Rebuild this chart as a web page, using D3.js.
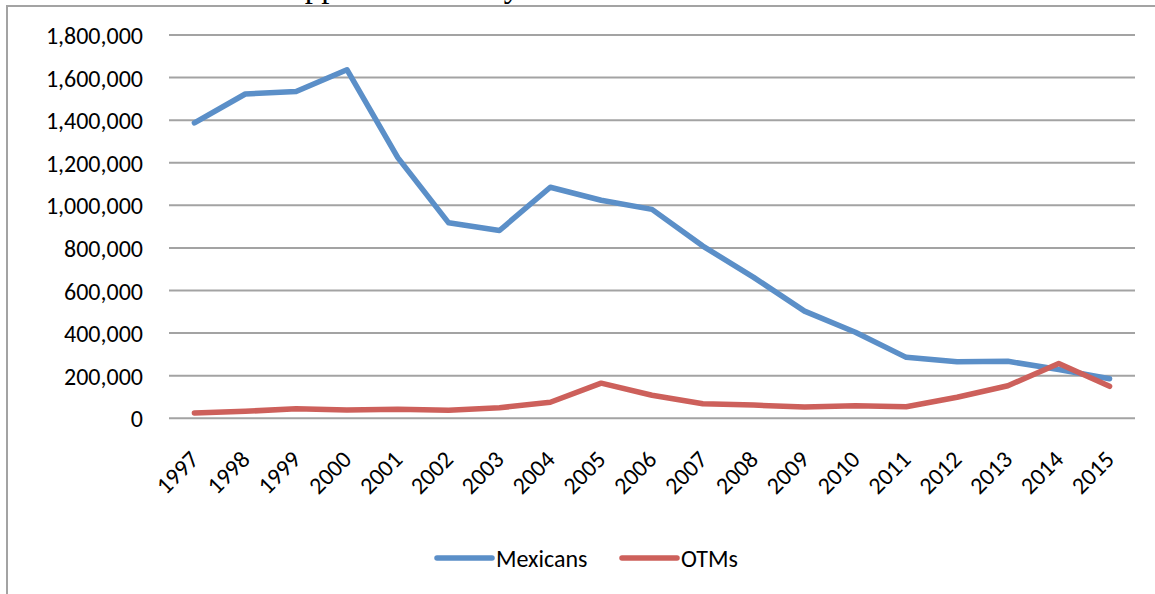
<!DOCTYPE html>
<html>
<head>
<meta charset="utf-8">
<script src="https://cdn.jsdelivr.net/npm/d3@7/dist/d3.min.js"></script>
<style>
  html, body { margin: 0; padding: 0; background: #ffffff; }
  svg { display: block; }
  .lbl { font-family: Calibri, Carlito, Lato, sans-serif; font-size: 24px; fill: #000; }
</style>
</head>
<body>
<svg id="chart" width="1155" height="594"></svg>
<script>
// Apprehensions by fiscal year
const years = ["1997","1998","1999","2000","2001","2002","2003","2004","2005","2006",
               "2007","2008","2009","2010","2011","2012","2013","2014","2015"];
const mexicans = [1387650, 1522918, 1534515, 1636883, 1224047, 917993, 882012, 1085006,
                  1023905, 981066, 808773, 661766, 503386, 404365, 286154, 265755, 267734,
                  229178, 186017];
const otms = [25303, 32858, 44495, 39555, 42167, 37317, 49545, 75389, 165170, 108026,
              67931, 62059, 52655, 59017, 54098, 99013, 153055, 257473, 150000];
const yTicks = [0, 200000, 400000, 600000, 800000, 1000000, 1200000, 1400000, 1600000, 1800000];
const seriesNames = ["Mexicans", "OTMs"];
const seriesColors = ["#5b8fc8", "#cd605b"];

const svg = d3.select("#chart");
const W = 1155, H = 594;
const plot = { left: 169, right: 1135, top: 35, bottom: 418.3 };

// Outer frame of the chart area (right and bottom edges run past the page)
svg.append("path")
  .attr("d", `M7,${H + 5} L7,6 L${W + 5},6`)
  .attr("fill", "none")
  .attr("stroke", "#a3a3a3")
  .attr("stroke-width", 2);

// Heading sitting above the frame
svg.append("text")
  .attr("x", 281).attr("y", -2.6)
  .attr("font-family", "'Times New Roman', 'Liberation Serif', serif")
  .attr("font-size", 33)
  .attr("fill", "#000")
  .text("Apprehensions by Year");

const x = d3.scalePoint().domain(years).range([plot.left, plot.right]).padding(0.5);
const y = d3.scaleLinear().domain([0, 1800000]).range([plot.bottom, plot.top]);

// Horizontal gridlines
svg.append("g")
  .selectAll("line")
  .data(yTicks)
  .join("line")
  .attr("x1", plot.left).attr("x2", plot.right)
  .attr("y1", d => y(d)).attr("y2", d => y(d))
  .attr("stroke", "#a3a3a3")
  .attr("stroke-width", 2);

// Value axis labels
const fmt = d3.format(",");
svg.append("g")
  .selectAll("text")
  .data(yTicks)
  .join("text")
  .attr("class", "lbl")
  .attr("x", 143)
  .attr("y", d => y(d) + 9.1)
  .attr("text-anchor", "end")
  .text(d => fmt(d));

// Category labels, slanted
svg.append("g")
  .selectAll("text")
  .data(years)
  .join("text")
  .attr("class", "lbl")
  .attr("text-anchor", "end")
  .attr("transform", d => `translate(${x(d) + 6},461) rotate(-45)`)
  .text(d => d);

// Series lines
const line = d3.line().x((d, i) => x(years[i])).y(d => y(d));
[mexicans, otms].forEach((vals, k) => {
  svg.append("path")
    .datum(vals)
    .attr("d", line)
    .attr("fill", "none")
    .attr("stroke", seriesColors[k])
    .attr("stroke-width", 5.5)
    .attr("stroke-linejoin", "round")
    .attr("stroke-linecap", "round");
});

// Legend
const legendX = [437, 622];
const legendY = 558;
seriesNames.forEach((name, k) => {
  const g = svg.append("g").attr("transform", `translate(${legendX[k]},${legendY})`);
  g.append("line")
    .attr("x1", 0).attr("x2", 55)
    .attr("y1", 0).attr("y2", 0)
    .attr("stroke", seriesColors[k])
    .attr("stroke-width", 5.5)
    .attr("stroke-linecap", "round");
  g.append("text")
    .attr("class", "lbl")
    .attr("x", 59)
    .attr("y", 8.8)
    .text(name);
});
</script>
</body>
</html>
